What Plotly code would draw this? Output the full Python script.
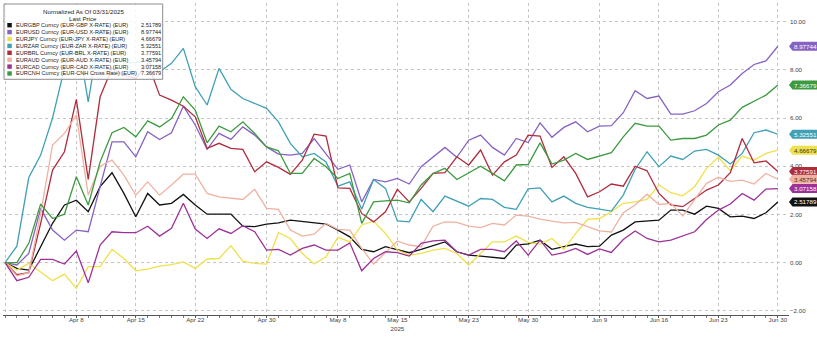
import pandas as pd
import plotly.graph_objects as go

# Business-day calendar, normalized to 03/31/2025
dates = pd.bdate_range("2025-03-31", "2025-06-30")

tick_dates = ["2025-03-31", "2025-04-08", "2025-04-15", "2025-04-22", "2025-04-30",
              "2025-05-08", "2025-05-15", "2025-05-23", "2025-05-30", "2025-06-09",
              "2025-06-16", "2025-06-23", "2025-06-30"]
tick_labels = ["", "Apr 8", "Apr 15", "Apr 22", "Apr 30", "May 8", "May 15<br>2025",
               "May 23", "May 30", "Jun 9", "Jun 16", "Jun 23", "Jun 30"]

eurgbp = [0, -0.24, -0.31, 0.66, 1.63, 2.39, 2.59, 2.11, 3.15, 3.73,
          2.87, 1.9, 2.87, 2.39, 2.46, 2.83, 2.39, 2.01, 2.01, 2.01,
          1.51, 1.49, 1.6, 1.65, 1.76, 1.7, 1.65, 1.6, 1.35, 1.07,
          0.55, 0.45, 0.66, 0.52, 0.41, 0.55, 0.69, 0.86, 0.45, 0.31,
          0.27, 0.21, 0.17, 0.73, 0.78, 0.93, 0.55, 0.66, 0.77, 0.66,
          0.68, 1.14, 1.35, 1.69, 1.72, 1.76, 2.18, 2.18, 2.01, 2.34,
          2.25, 1.9, 1.93, 1.83, 2.07, 2.51789]
eurusd = [0, -0.1, 0.38, 2.25, 1.35, 0.93, 1.35, 1.28, 3.15, 5.01,
          5.01, 4.39, 5.43, 5.11, 5.39, 6.49, 5.71, 4.7, 5.36, 5.11,
          5.63, 5.29, 4.8, 4.5, 4.46, 4.53, 5.15, 4.53, 3.87, 4.05,
          2.52, 3.45, 3.35, 3.49, 3.26, 3.98, 4.37, 4.78, 4.37, 5.08,
          5.29, 4.78, 4.46, 5.15, 4.98, 5.8, 5.2, 5.61, 5.84, 5.43,
          5.66, 5.68, 6.22, 7.13, 6.81, 6.91, 6.16, 6.16, 6.3, 6.6,
          7.09, 7.37, 7.85, 8.22, 8.37, 8.97744]
eurjpy = [0, -0.31, -0.03, -0.38, -0.75, -0.48, -1.07, -0.17, -0.17, 0.55,
          0.17, -0.34, -0.27, -0.15, -0.08, 0.03, -0.24, 0.15, 0.17, 0.7,
          0.06, -0.03, -0.06, 1.24, 1.0, 0.38, -0.06, 0.24, 1.05, 0.86,
          1.56, 1.72, 1.21, 0.52, 0.31, 0.38, 0.52, 0.59, 0.38, -0.1,
          0.38, 0.86, 0.86, 1.1, 0.84, 0.77, 1.0, 0.55, 1.21, 1.79,
          1.83, 2.11, 2.46, 2.52, 2.62, 3.22, 2.9, 2.77, 3.15, 3.91,
          4.37, 3.81, 4.42, 4.25, 4.53, 4.66679]
eurzar = [0, 0.68, 3.53, 4.46, 6.0, 8.07, 9.65, 6.67, 9.68, 9.51,
          8.29, 8.3, 8.36, 7.92, 8.27, 8.89, 7.3, 6.54, 8.06, 7.19,
          6.81, 6.6, 6.4, 5.84, 4.95, 4.39, 4.53, 4.18, 3.17, 3.35,
          2.21, 3.45, 3.08, 1.73, 1.69, 2.62, 2.11, 2.76, 2.56, 2.34,
          2.66, 2.62, 2.29, 2.21, 3.06, 3.1, 2.52, 2.76, 2.46, 2.29,
          2.22, 2.14, 2.8, 3.87, 4.6, 3.98, 4.42, 4.28, 4.63, 4.7,
          4.46, 4.09, 4.53, 5.39, 5.5, 5.32551]
eurbrl = [0, -0.5, -0.42, 1.63, 3.84, 4.6, 6.77, 3.45, 6.88, 8.06,
          7.78, 7.64, 8.29, 6.95, 6.74, 6.49, 6.05, 4.74, 4.95, 4.74,
          4.7, 3.77, 4.18, 3.95, 3.66, 4.25, 5.33, 5.25, 3.1, 3.08,
          2.04, 1.69, 2.11, 3.04, 2.52, 3.08, 3.7, 3.73, 4.39, 4.05,
          4.67, 3.63, 4.18, 4.46, 5.29, 5.25, 3.95, 4.39, 3.7, 2.73,
          2.94, 3.26, 3.17, 4.0, 3.81, 2.87, 2.39, 2.32, 2.66, 3.01,
          3.22, 3.73, 5.15, 4.14, 4.22, 3.77591]
euraud = [0, -0.55, -0.42, 2.04, 4.88, 5.36, 6.12, 2.8, 4.0, 4.25,
          3.63, 2.8, 3.35, 2.8, 3.22, 3.67, 3.67, 2.87, 2.73, 2.66,
          2.62, 3.04, 2.25, 2.21, 1.35, 1.1, 1.18, 1.63, 1.38, 1.35,
          0.59, -0.06, 0.41, 0.89, 0.73, 0.66, 1.51, 1.69, 1.67, 1.51,
          1.45, 1.63, 1.56, 1.97, 1.93, 1.8, 1.72, 1.65, 1.67, 1.49,
          1.32, 1.27, 2.07, 2.39, 2.84, 2.41, 2.46, 1.93, 2.59, 3.29,
          3.54, 3.37, 3.42, 3.26, 3.7, 3.45794]
eurcad = [0, -0.75, -0.61, 0.13, 0.13, -0.06, 0.48, -0.84, 0.73, 1.28,
          1.24, 1.24, 1.51, 1.1, 1.42, 2.46, 1.39, 1.0, 1.4, 1.21,
          1.53, 1.28, 0.52, 0.55, 0.31, 0.59, 0.73, 0.52, 0.52, 0.82,
          -0.34, 0.17, 0.45, 0.41, 0.27, 0.8, 0.9, 0.93, 0.45, 0.31,
          0.55, 0.55, 0.45, 0.9, 0.31, 0.93, 0.31, 0.41, 0.59, 0.34,
          0.57, 0.42, 0.96, 1.31, 1.0, 0.86, 0.93, 1.1, 1.28, 1.79,
          2.18, 2.43, 2.87, 2.59, 3.05, 3.07158]
eurcnh = [0, 0.0, 0.8, 2.43, 1.83, 2.01, 3.56, 2.39, 4.18, 5.39,
          5.61, 5.22, 5.88, 5.63, 5.98, 6.88, 6.33, 4.97, 5.66, 5.43,
          5.84, 5.36, 4.8, 4.64, 3.7, 3.7, 4.32, 3.98, 3.49, 3.7,
          1.63, 2.52, 2.56, 2.59, 2.48, 3.22, 3.7, 3.91, 3.45, 3.73,
          4.0, 3.7, 3.39, 4.05, 4.07, 4.97, 4.09, 4.25, 4.53, 4.28,
          4.42, 4.56, 5.22, 5.78, 5.66, 5.66, 5.08, 5.15, 5.15, 5.29,
          5.71, 5.91, 6.44, 6.71, 6.95, 7.36679]

names = ["EURGBP Curncy (EUR-GBP X-RATE) (EUR)",
         "EURUSD Curncy (EUR-USD X-RATE) (EUR)",
         "EURJPY Curncy (EUR-JPY X-RATE) (EUR)",
         "EURZAR Curncy (EUR-ZAR X-RATE) (EUR)",
         "EURBRL Curncy (EUR-BRL X-RATE) (EUR)",
         "EURAUD Curncy (EUR-AUD X-RATE) (EUR)",
         "EURCAD Curncy (EUR-CAD X-RATE) (EUR)",
         "EURCNH Curncy (EUR-CNH Cross Rate) (EUR)"]
series = [eurgbp, eurusd, eurjpy, eurzar, eurbrl, euraud, eurcad, eurcnh]
colors = ["#111111", "#8662c3", "#f0e04c", "#40a0b6", "#b02c3c", "#efb2a2", "#9d3199", "#3d9a3f"]
tag_text_colors = ["#ffffff", "#ffffff", "#333333", "#ffffff", "#ffffff", "#5a2a20", "#ffffff", "#ffffff"]

x_idx = list(range(len(dates)))
tick_idx = [dates.get_loc(pd.Timestamp(d)) for d in tick_dates]

W, H = 817, 337
ML, MR, MT, MB = 3, 28, 3, 22
PW, PH = W - ML - MR, H - MT - MB
STEP = 11.89          # pixels per business day
Y0PX, YSCALE = 262.6, 24.1  # pixel row of zero, pixels per unit


def px_x(px):
    return (px - ML) / PW


def px_y(py):
    return 1 - (py - MT) / PH


x_range = [-(5 - ML) / STEP, (ML + PW - 5) / STEP]
y_range = [(Y0PX - (MT + PH)) / YSCALE, (Y0PX - MT) / YSCALE]

fig = go.Figure()
for name, vals, col in zip(names, series, colors):
    fig.add_trace(go.Scatter(x=x_idx, y=vals, mode="lines", name=name,
                             line=dict(color=col, width=1.3), showlegend=False))

shapes = []
annotations = []

# Legend panel
shapes.append(dict(type="rect", xref="paper", yref="paper",
                   x0=px_x(4), x1=px_x(162.7), y0=px_y(79.3), y1=px_y(4),
                   fillcolor="rgba(255,255,255,0.85)", line=dict(color="#8c8c8c", width=1),
                   layer="above"))
title_font = dict(family="Liberation Sans, Arial, sans-serif", size=6.2, color="#222222")
legend_font = dict(family="Liberation Sans, Arial, sans-serif", size=5.6, color="#222222")
annotations.append(dict(xref="paper", yref="paper", x=px_x(83), y=px_y(11.7),
                        text="Normalized As Of 03/31/2025", showarrow=False,
                        xanchor="center", yanchor="middle", font=title_font))
annotations.append(dict(xref="paper", yref="paper", x=px_x(83), y=px_y(18.4),
                        text="Last Price", showarrow=False,
                        xanchor="center", yanchor="middle", font=title_font))
for k, (name, vals, col) in enumerate(zip(names, series, colors)):
    ry = 25.2 + 6.9 * k
    shapes.append(dict(type="rect", xref="paper", yref="paper",
                       x0=px_x(7.3), x1=px_x(11.8), y0=px_y(ry + 2.2), y1=px_y(ry - 2.2),
                       fillcolor=col, line=dict(width=0), layer="above"))
    annotations.append(dict(xref="paper", yref="paper", x=px_x(14), y=px_y(ry),
                            text=name, showarrow=False, xanchor="left", yanchor="middle",
                            font=legend_font))
    annotations.append(dict(xref="paper", yref="paper", x=px_x(139), y=px_y(ry),
                            text=f"{vals[-1]:.5f}", showarrow=False, xanchor="left",
                            yanchor="middle", font=legend_font))

# Last-value tags on the right edge
half = 4.5 / YSCALE
for vals, col, tcol in zip(series, colors, tag_text_colors):
    v = vals[-1]
    xt, xb, xr = px_x(789), px_x(792.5), px_x(822)
    path = (f"M {xt},{v} L {xb},{v + half} L {xr},{v + half} "
            f"L {xr},{v - half} L {xb},{v - half} Z")
    shapes.append(dict(type="path", xref="paper", yref="y", path=path,
                       fillcolor=col, line=dict(width=0), layer="above"))
    annotations.append(dict(xref="paper", yref="y", x=px_x(792.5), y=v,
                            text=f"{v:.5f}", showarrow=False, xanchor="left",
                            yanchor="middle", borderpad=0,
                            font=dict(family="Liberation Sans, Arial, sans-serif",
                                      size=6.2, color=tcol)))

axis_font = dict(family="Liberation Sans, Arial, sans-serif", size=6.2, color="#444444")
fig.update_layout(
    width=W, height=H,
    margin=dict(l=ML, r=MR, t=MT, b=MB, pad=0),
    paper_bgcolor="white", plot_bgcolor="white",
    shapes=shapes, annotations=annotations,
    xaxis=dict(range=x_range, tickmode="array", tickvals=tick_idx, ticktext=tick_labels,
               showgrid=True, gridcolor="#c4c4c4", griddash="dot", gridwidth=1,
               zeroline=False, showline=True, linecolor="#555555", linewidth=1,
               ticks="outside", ticklen=2, tickcolor="#555555", tickfont=axis_font,
               ticklabelstandoff=-3,
               minor=dict(tickmode="array", tickvals=x_idx, ticks="outside",
                          ticklen=2, tickcolor="#777777", showgrid=False)),
    yaxis=dict(range=y_range, side="right", tickmode="array",
               tickvals=[-2, 0, 2, 4, 6, 8, 10], tickformat=".2f",
               showgrid=True, gridcolor="#c4c4c4", griddash="dot", gridwidth=1,
               zeroline=False, showline=False, ticks="", tickfont=axis_font),
)

fig.write_html("out.html")
